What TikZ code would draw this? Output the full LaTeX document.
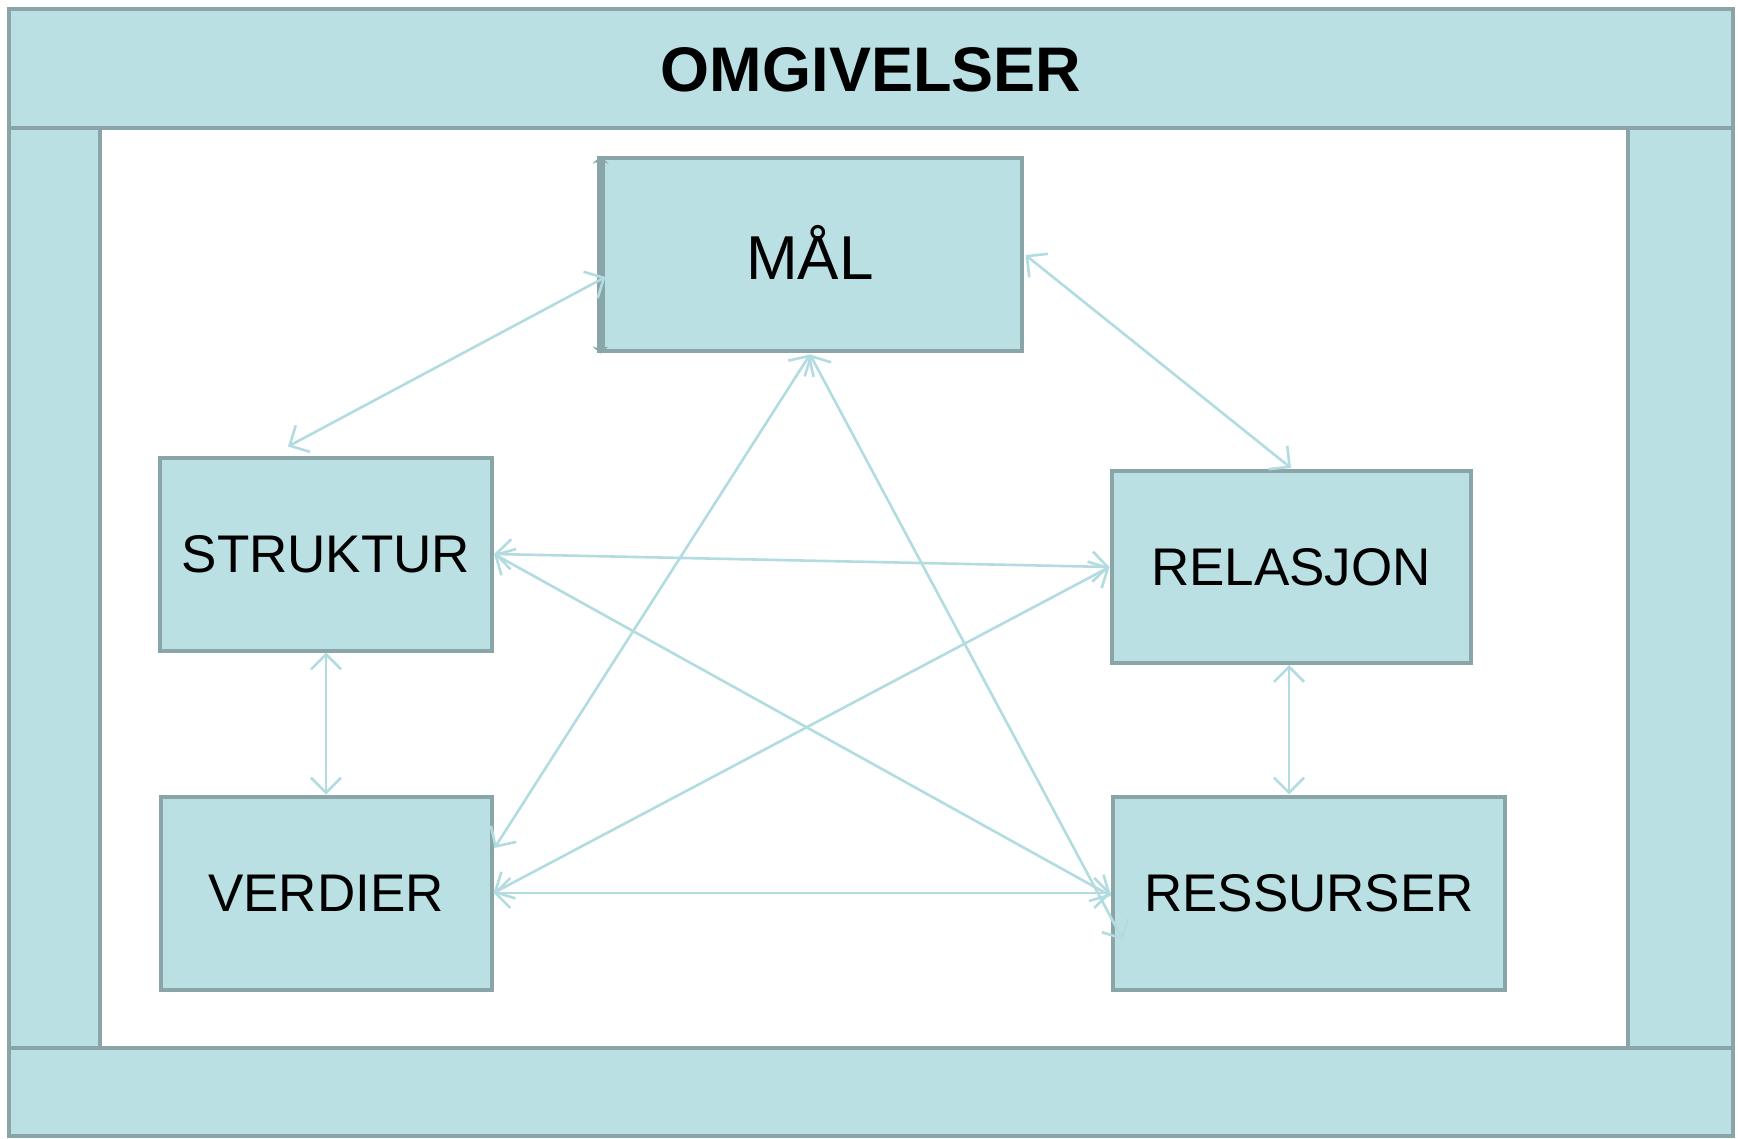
\documentclass[tikz,border=0pt]{standalone}
\usepackage{fontspec}
\setmainfont{Liberation Sans}
\usepackage{xcolor}
\usetikzlibrary{shapes,arrows,arrows.meta,positioning,calc}

\definecolor{boxfill}{HTML}{BBE0E3}
\definecolor{boxline}{HTML}{8AA5A8}
\definecolor{linkcol}{HTML}{B2DCE0}

\begin{document}
\begin{tikzpicture}[
    x=1pt, y=-1pt,
    band/.style={draw=boxline, fill=boxfill, line width=4.5pt},
    factor/.style={rectangle, draw=boxline, fill=boxfill, line width=4pt, inner sep=0pt, minimum height=193pt, font=\fontsize{53}{60}\selectfont},
    link/.style={{Straight Barb[length=15pt,width=30pt]}-{Straight Barb[length=15pt,width=30pt]}, draw=linkcol, line width=2.6pt}
]
\useasboundingbox[fill=white] (0,0) rectangle (1738,1139);

% Frame (omgivelser)
\draw[band] (9,9) rectangle (1733,128);
\draw[band] (9,128) rectangle (100,1048);
\draw[band] (1628,128) rectangle (1733,1048);
\draw[band] (9,1048) rectangle (1733,1136);
\node[font=\fontsize{63}{70}\selectfont\bfseries] (omg) at (871,70) {OMGIVELSER};

% Factors
\node[factor, minimum width=423pt, font=\fontsize{62}{70}\selectfont] (mal) at (810,255) {\raisebox{5pt}{MÅL}};
\node[factor, minimum width=332pt] (struktur) at (326,554) {STRUKTUR};
\node[factor, minimum width=359pt, minimum height=192pt] (relasjon) at (1291,567) {RELASJON};
\node[factor, minimum width=331pt] (verdier) at (326,893) {VERDIER};
\node[factor, minimum width=392pt] (ressurser) at (1309,893) {RESSURSER};

% thick left edge of MÅL
\draw[draw=boxline, line width=8pt, {Stealth[length=7pt,width=16pt]}-{Stealth[length=7pt,width=16pt]}] ([xshift=4pt]mal.north west) -- ([xshift=4pt]mal.south west);

% Arrows between factors
\draw[link] ([xshift=-38pt,yshift=9pt]struktur.north) -- ([xshift=9pt,yshift=-22pt]mal.west);
\draw[link] ([xshift=2pt]mal.east) -- ([yshift=1pt]relasjon.north);
\draw[link] ([yshift=-1pt]mal.south) -- ([xshift=1pt,yshift=45pt]verdier.east);
\draw[link] ([yshift=-1pt]mal.south) -- ([xshift=12pt,yshift=-47pt]ressurser.west);
\draw[link] (struktur.east) -- (relasjon.west);
\draw[link] (struktur.east) -- ([yshift=-3pt]ressurser.west);
\draw[link] (verdier.east) -- (relasjon.west);
\draw[link] (verdier.east) -- (ressurser.west);
\draw[link] (struktur.south) -- (verdier.north);
\draw[link] ([xshift=-2pt]relasjon.south) -- ([xshift=-2pt]relasjon.south |- ressurser.north);

\end{tikzpicture}
\end{document}
